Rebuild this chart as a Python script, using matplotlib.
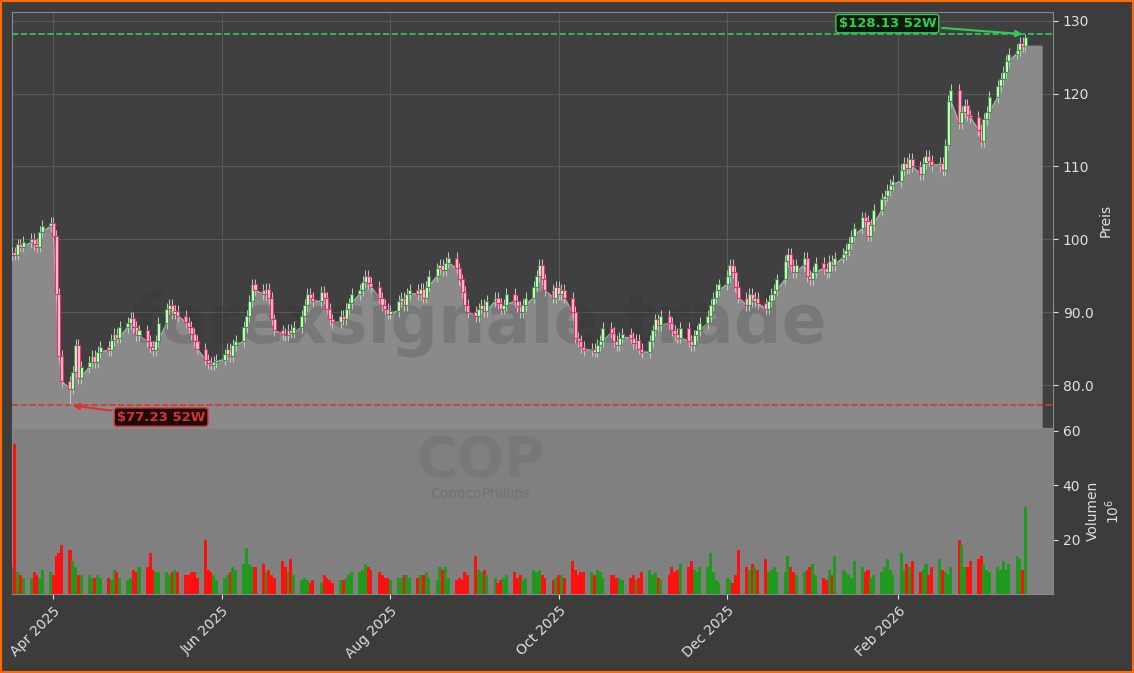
import matplotlib
matplotlib.use("Agg")
import matplotlib.pyplot as plt
import matplotlib.dates as mdates
import numpy as np
import pandas as pd

closes = [
 98.2, 97.9, 99.3, 99.0, 99.6,
 100.1, 99.4, 99.0, 101.0, 101.8,
 102.2, 100.5, 92.5, 84.0, 80.5,
 79.5, 81.8, 85.5, 80.9, 82.5,
 83.2, 84.0, 83.1, 84.5, 85.2,
 84.8, 86.2, 87.0, 86.5, 88.0,
 88.5, 89.2, 88.0, 86.8, 87.5,
 86.0, 85.2, 84.8, 86.0, 88.5,
 90.5, 91.0, 89.8, 90.2, 89.5,
 88.6, 88.0, 87.0, 86.0, 85.0,
 83.5, 83.0, 82.8, 83.2, 83.5,
 84.2, 85.0, 84.0, 85.5, 86.0,
 88.0, 89.5, 91.5, 93.8, 93.0,
 92.5, 93.2, 92.0, 89.0, 87.5,
 87.0, 86.8, 87.6, 87.2, 88.0,
 89.5, 91.0, 92.5, 92.0, 91.5,
 92.8, 92.0, 90.5, 89.0, 88.6,
 89.5, 89.0, 90.5, 91.2, 92.5,
 93.0, 94.2, 95.0, 94.0, 93.5,
 92.0, 91.0, 90.5, 89.8, 90.2,
 91.5, 92.0, 91.0, 92.5, 93.0,
 92.5, 93.2, 92.0, 93.5, 95.0,
 96.0, 96.5, 95.8, 96.8, 97.5,
 96.0, 94.5, 92.8, 91.0, 90.0,
 89.5, 90.5, 91.0, 90.2, 91.5,
 92.0, 91.2, 90.5, 91.0, 92.5,
 91.5, 90.8, 90.0, 91.0, 92.0,
 93.5, 95.0, 96.5, 94.5, 93.0,
 92.0, 93.5, 92.5, 93.0, 92.0,
 90.0, 86.5, 86.0, 85.2, 84.8,
 85.0, 84.6, 85.5, 86.0, 87.8,
 87.2, 86.0, 85.5, 86.5, 87.0,
 86.5, 85.8, 86.2, 85.0, 84.5,
 86.0, 87.5, 89.0, 88.2, 89.5,
 88.5, 87.5, 87.0, 86.5, 87.8,
 86.0, 85.5, 86.8, 87.5, 88.5,
 89.5, 91.0, 92.0, 93.0, 93.8,
 95.0, 96.5, 95.5, 93.5, 92.0,
 91.0, 92.5, 91.5, 92.0, 91.2,
 90.5, 91.5, 92.5, 93.0, 94.5,
 97.0, 98.0, 96.5, 95.5, 96.5,
 97.5, 95.0, 94.5, 95.5, 96.8,
 96.0, 95.5, 97.0, 96.5, 97.5,
 98.0, 98.5, 99.5, 100.5, 101.5,
 103.0, 102.5, 100.5, 102.0, 104.0,
 105.5, 106.0, 106.8, 107.5, 108.0,
 109.5, 110.5, 109.8, 111.0, 110.0,
 109.0, 110.5, 111.5, 110.8, 110.2,
 110.5, 109.5, 113.0, 119.0, 120.5,
 116.0, 117.5, 118.5, 117.0, 116.8,
 115.0, 113.5, 116.5, 117.5, 119.5,
 121.0, 122.0, 123.0, 124.5, 125.5,
 126.0, 127.0, 126.5, 127.8,
]
volumes = [
 10, 55, 8, 7, 6, 6, 8, 7, 6, 9, 8, 7, 14, 15, 18, 16, 12, 10, 7, 7,
 7, 6, 6, 7, 6, 6, 5, 9, 8, 6, 5, 6, 9, 8, 10, 10, 15, 9, 8, 8,
 8, 7, 8, 9, 8, 7, 7, 8, 8, 6, 20, 9, 8, 7, 5, 6, 7, 8, 10, 9,
 11, 17, 11, 10, 10, 11, 8, 9, 7, 6, 12, 10, 8, 13, 7, 5, 6, 5, 4, 5,
 4, 7, 6, 5, 4, 5, 5, 6, 7, 8, 8, 9, 11, 10, 9, 8, 7, 6, 6, 5,
 6, 6, 7, 7, 6, 6, 7, 7, 8, 6, 5, 10, 9, 10, 6, 5, 6, 5, 8, 7,
 14, 9, 8, 9, 7, 6, 4, 5, 6, 7, 8, 6, 7, 5, 6, 9, 8, 9, 7, 6,
 5, 6, 7, 7, 6, 12, 9, 7, 8, 8, 8, 7, 9, 8, 6, 7, 7, 6, 6, 5,
 6, 7, 5, 6, 8, 9, 7, 8, 6, 5, 7, 10, 8, 9, 11, 10, 12, 9, 8, 10,
 10, 15, 8, 5, 4, 6, 5, 4, 7, 16, 10, 9, 11, 10, 9, 13, 8, 9, 10, 8,
 8, 14, 10, 8, 7, 8, 9, 10, 11, 7, 6, 5, 9, 7, 14, 9, 8, 7, 6, 12,
 10, 8, 9, 6, 7, 8, 10, 13, 9, 7, 15, 9, 11, 10, 12, 8, 9, 11, 7, 10,
 13, 9, 8, 7, 10, 20, 18, 10, 10, 12, 13, 14, 11, 9, 8,
 10, 9, 12, 9, 11, 14, 13, 9, 32,
]
high52, low52 = 128.13, 77.23
price_ticks = [80, 90, 100, 110, 120, 130]
price_labels = ["80.0", "90.0", "100", "110", "120", "130"]

n = min(len(closes), len(volumes))
closes, volumes = closes[:n], volumes[:n]
dates = pd.bdate_range("2025-03-17", periods=n)
c = np.array(closes)
o = np.concatenate([[c[0] - 0.4], c[:-1]])
hi = np.maximum(o, c) + 0.8
lo = np.minimum(o, c) - 0.8
lo[np.argmin(lo)] = low52
hi[-1] = high52
v = np.array(volumes, dtype=float)
up = c >= o

BG = "#3c3c3c"
fig = plt.figure(figsize=(11.34, 6.73), dpi=100, facecolor=BG)
fig.patches.append(plt.Rectangle((0, 0), 1, 1, transform=fig.transFigure,
                                 fill=False, edgecolor="#ff6a00", linewidth=3))
W, H = 1134, 673
ax = fig.add_axes([12 / W, 1 - 428 / H, 1041 / W, 416 / H])
axv = fig.add_axes([12 / W, 1 - 594 / H, 1041 / W, 166 / H], sharex=ax)
for a in (ax, axv):
    a.set_facecolor("#404040")
    for s in a.spines.values():
        s.set_color("#888888")
    a.set_axisbelow(True)
    a.tick_params(colors="#e0e0e0", labelsize=10)
    a.yaxis.tick_right()
    a.yaxis.set_label_position("right")
ax.grid(True, color="#5a5a5a", linewidth=0.8)
axv.set_facecolor("#808080")

xd = mdates.date2num(dates)
body_lo = np.minimum(o, c)
ext = np.append(xd, xd[-1] + 6)
ax.fill_between(ext, np.append(body_lo, body_lo[-1]), 0, color="#8a8a8a", zorder=1)
ax.plot(xd, body_lo, color="#b0b0b0", lw=0.8, zorder=2)
ax.vlines(xd, lo, hi, color="#c8c8c8", lw=0.7, zorder=3)
bw = 1.1
for i in range(n):
    fc, ec = ("#d8f5d8", "#3a9a3a") if up[i] else ("#ffc0d4", "#e8306a")
    ax.bar(xd[i], max(abs(c[i] - o[i]), 0.15), bottom=min(o[i], c[i]), width=bw,
           facecolor=fc, edgecolor=ec, linewidth=0.8, zorder=4)
ax.axhline(high52, color="#2ecc55", ls="--", lw=1.2, zorder=5)
ax.axhline(low52, color="#e03030", ls="--", lw=1.2, zorder=5)
ax.annotate(f"${high52:.2f} 52W", xy=(xd[-1], high52), xytext=(xd[-1] - 50, 129.6),
            color="#2ecc55", fontsize=9.5, fontweight="bold", ha="center", va="center",
            bbox=dict(boxstyle="round,pad=0.2", fc="#0a1a0a", ec="#2ecc55"),
            arrowprops=dict(arrowstyle="-|>", color="#2ecc55", lw=1.5), zorder=6)
imin = int(np.argmin(lo))
ax.annotate(f"${low52:.2f} 52W", xy=(xd[imin], low52), xytext=(xd[imin] + 33, 75.6),
            color="#e03030", fontsize=9.5, fontweight="bold", ha="center", va="center",
            bbox=dict(boxstyle="round,pad=0.2", fc="#1a0a0a", ec="#e03030"),
            arrowprops=dict(arrowstyle="-|>", color="#e03030", lw=1.5), zorder=6)
ax.set_ylim(74.1, 131.2)
ax.set_yticks(price_ticks)
ax.set_yticklabels(price_labels)
ax.set_ylabel("Preis", color="#e0e0e0")
ax.text(0.45, 0.25, "forexsignale.trade", transform=ax.transAxes, fontsize=48,
        fontweight="bold", color="#2a2a2a", alpha=0.18, ha="center", va="center", zorder=2.5)
plt.setp(ax.get_xticklabels(), visible=False)
ax.tick_params(axis="x", length=0)

axv.bar(xd, v, width=bw, color=np.where(up, "#1f9a1f", "#ff1010"), zorder=3)
axv.set_ylim(0, 61)
axv.set_yticks([20, 40, 60])
axv.set_ylabel("Volumen\n$10^6$", color="#e0e0e0")
axv.text(0.45, 0.8, "COP", transform=axv.transAxes, fontsize=40, fontweight="bold",
         color="#6a6a6a", alpha=0.35, ha="center", va="center")
axv.text(0.45, 0.60, "ConocoPhillips", transform=axv.transAxes, fontsize=10,
         color="#6a6a6a", alpha=0.6, ha="center", va="center")
axv.set_xlim(mdates.datestr2num("2025-03-17"), mdates.datestr2num("2026-03-29"))
axv.xaxis.set_major_locator(mdates.MonthLocator(bymonth=[2, 4, 6, 8, 10, 12]))
axv.xaxis.set_major_formatter(mdates.DateFormatter("%b %Y"))
plt.setp(axv.get_xticklabels(), rotation=45, ha="right", rotation_mode="anchor")
fig.savefig("out.png", dpi=100, facecolor=BG)
